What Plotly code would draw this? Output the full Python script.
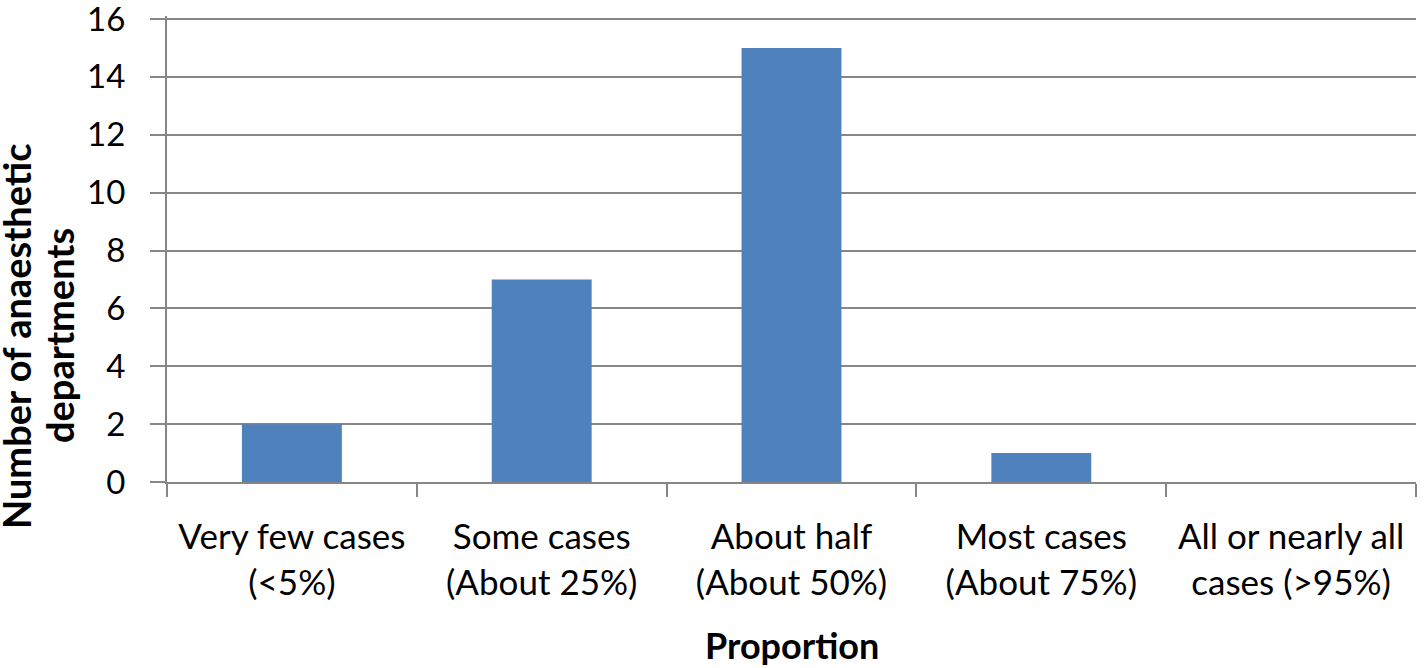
import plotly.graph_objects as go

categories = ["Very few cases<br>(<5%)", "Some cases<br>(About 25%)", "About half<br>(About 50%)",
              "Most cases<br>(About 75%)", "All or nearly all<br>cases (>95%)"]
values = [2, 7, 15, 1, 0]
y_ticks = [0, 2, 4, 6, 8, 10, 12, 14, 16]
y_title_lines = ["Number of anaesthetic", "departments"]
x_title = "Proportion"

FONT = "Lato"
GRAY = "#868686"
W, H = 1424, 668
L, R, T, B = 167, 8, 16, 186
PH = H - T - B
BOTTOM = H - B            # pixel row of y = 0
Y_TOP = 16 + (19 - T) / ((BOTTOM - 19) / 16)   # so that 16 sits at row 19


def py(px):
    """pixel row -> paper y"""
    return (BOTTOM - px) / PH


fig = go.Figure(go.Bar(x=categories, y=values, marker=dict(color="#4F81BD", line=dict(width=0))))

fig.update_layout(
    width=W, height=H,
    margin=dict(l=L, r=R, t=T, b=B, autoexpand=False),
    paper_bgcolor="white", plot_bgcolor="white",
    bargap=0.6,
    showlegend=False,
    font=dict(family=FONT, size=30, color="black"),
)
fig.update_xaxes(
    type="category",
    automargin=False,
    tickson="boundaries",
    ticks="outside", ticklen=13, tickwidth=2, tickcolor=GRAY,
    showline=True, linecolor=GRAY, linewidth=2,
    tickfont=dict(family=FONT, size=35, color="black"),
    ticklabelstandoff=23,
    ticklabeloverflow="allow",
)
fig.update_yaxes(
    automargin=False,
    range=[0, Y_TOP], tickvals=y_ticks,
    ticks="outside", ticklen=15, tickwidth=2, tickcolor=GRAY,
    showline=True, linecolor=GRAY, linewidth=2,
    showgrid=True, gridcolor=GRAY, gridwidth=2,
    zeroline=False,
    tickfont=dict(family=FONT, size=33, color="black"),
    ticklabelstandoff=18,
    ticklabeloverflow="allow",
)
for line, cx in zip(y_title_lines, [16, 59]):
    fig.add_annotation(
        text=f"<b>{line}</b>", textangle=-90,
        xref="paper", yref="paper", x=0, y=py(336),
        xanchor="center", yanchor="middle", xshift=cx - L, showarrow=False,
        font=dict(family=FONT, size=38, color="black"),
    )
fig.add_annotation(
    text=f"<b>{x_title}</b>",
    xref="paper", yref="paper", x=0.5, y=py(645),
    xanchor="center", yanchor="middle", showarrow=False,
    font=dict(family=FONT, size=36, color="black"),
)

fig.write_html("out.html", config={"displayModeBar": False},
               post_script="document.body.style.margin='0';")
